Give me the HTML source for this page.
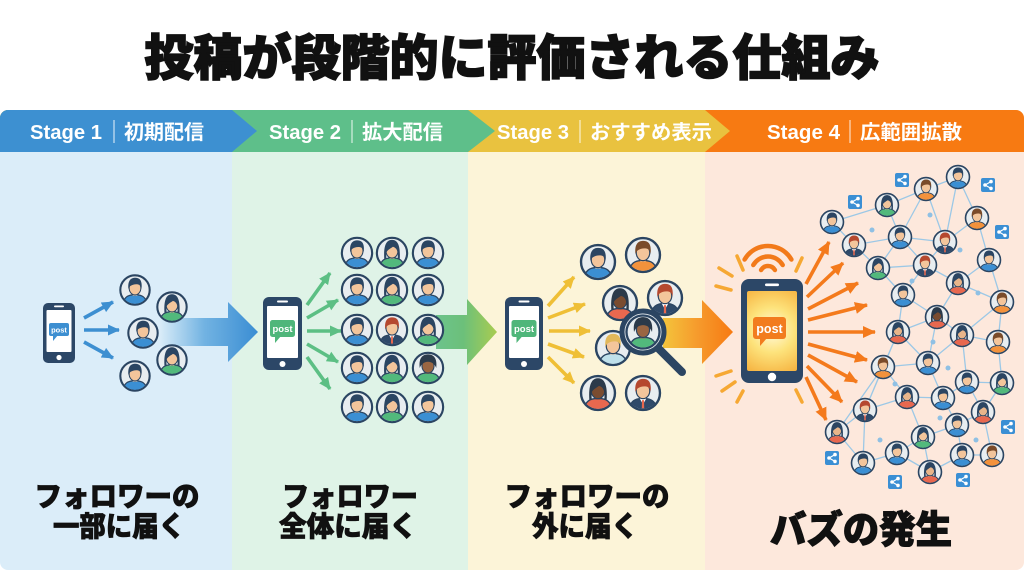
<!DOCTYPE html>
<html><head><meta charset="utf-8"><style>
html,body{margin:0;padding:0;background:#fff;width:1024px;height:572px;overflow:hidden}
svg{display:block}
</style></head><body>
<svg width="1024" height="572" viewBox="0 0 1024 572" xmlns="http://www.w3.org/2000/svg">
<defs>
<clipPath id="avc"><circle r="14.6"/></clipPath>
<clipPath id="frame"><rect x="0" y="110" width="1024" height="460" rx="8"/></clipPath>
<symbol id="avB" viewBox="-17 -17 34 34"><circle r="15.6" fill="#e8edf0" stroke="#2b4562" stroke-width="2.2"/><g clip-path="url(#avc)"><path d="M-12.5,17 C-12.5,7 -7,5 0,5 C7,5 12.5,7 12.5,17Z" fill="#3b8fd3" stroke="#2b4562" stroke-width="1.3"/><rect x="-2.4" y="1" width="4.8" height="5" fill="#f3c59b"/><ellipse cy="-2" rx="6.2" ry="7.2" fill="#f3c59b" stroke="#2b4562" stroke-width="1.1"/><path d="M-7,-1 C-8,-11 -3.5,-13 0,-13 C4.5,-13 8,-11 7,-1 C6.5,-4 5.5,-5.5 3,-6 C0,-6.5 -3,-5.5 -4.5,-4.5 C-5.5,-4 -6.5,-2.5 -7,-1Z" fill="#2b4562"/></g></symbol>
<symbol id="avG" viewBox="-17 -17 34 34"><circle r="15.6" fill="#e8edf0" stroke="#2b4562" stroke-width="2.2"/><g clip-path="url(#avc)"><path d="M-12.5,17 C-12.5,7 -7,5 0,5 C7,5 12.5,7 12.5,17Z" fill="#52b97c" stroke="#2b4562" stroke-width="1.3"/><rect x="-2.4" y="1" width="4.8" height="5" fill="#f3c59b"/><ellipse cy="-2" rx="6.2" ry="7.2" fill="#f3c59b" stroke="#2b4562" stroke-width="1.1"/><path d="M-8,6 C-9,-11 -4,-13.5 0,-13.5 C4,-13.5 9,-11 8,6 L5.8,6 C6.3,0 6,-5 1,-6.5 C-2,-4.5 -5,-3 -6,0 L-5.8,6Z" fill="#2b4562"/></g></symbol>
<symbol id="avO" viewBox="-17 -17 34 34"><circle r="15.6" fill="#e8edf0" stroke="#2b4562" stroke-width="2.2"/><g clip-path="url(#avc)"><path d="M-12.5,17 C-12.5,7 -7,5 0,5 C7,5 12.5,7 12.5,17Z" fill="#f3923c" stroke="#2b4562" stroke-width="1.3"/><rect x="-2.4" y="1" width="4.8" height="5" fill="#f3c59b"/><ellipse cy="-2" rx="6.2" ry="7.2" fill="#f3c59b" stroke="#2b4562" stroke-width="1.1"/><path d="M-7,-1 C-8,-11 -3.5,-13 0,-13 C4.5,-13 8,-11 7,-1 C6.5,-4 5.5,-5.5 3,-6 C0,-6.5 -3,-5.5 -4.5,-4.5 C-5.5,-4 -6.5,-2.5 -7,-1Z" fill="#7a4b2a"/></g></symbol>
<symbol id="avR" viewBox="-17 -17 34 34"><circle r="15.6" fill="#e8edf0" stroke="#2b4562" stroke-width="2.2"/><g clip-path="url(#avc)"><path d="M-12.5,17 C-12.5,7 -7,5 0,5 C7,5 12.5,7 12.5,17Z" fill="#e8684f" stroke="#2b4562" stroke-width="1.3"/><rect x="-2.4" y="1" width="4.8" height="5" fill="#e8b58a"/><ellipse cy="-2" rx="6.2" ry="7.2" fill="#e8b58a" stroke="#2b4562" stroke-width="1.1"/><path d="M-8,6 C-9,-11 -4,-13.5 0,-13.5 C4,-13.5 9,-11 8,6 L5.8,6 C6.3,0 6,-5 1,-6.5 C-2,-4.5 -5,-3 -6,0 L-5.8,6Z" fill="#2b4562"/></g></symbol>
<symbol id="avN" viewBox="-17 -17 34 34"><circle r="15.6" fill="#e8edf0" stroke="#2b4562" stroke-width="2.2"/><g clip-path="url(#avc)"><path d="M-12.5,17 C-12.5,7 -7,5 0,5 C7,5 12.5,7 12.5,17Z" fill="#2f4a6a" stroke="#2b4562" stroke-width="1.3"/><path d="M-3,5 L0,10.5 L3,5Z" fill="#fff"/><path d="M-0.9,6.5 L0.9,6.5 L1.1,14 L-1.1,14Z" fill="#e8684f"/><rect x="-2.4" y="1" width="4.8" height="4.5" fill="#f3c59b"/><ellipse cy="-2" rx="6.2" ry="7.2" fill="#f3c59b" stroke="#2b4562" stroke-width="1.1"/><path d="M-7,-1 C-8,-11 -3.5,-13 0,-13 C4.5,-13 8,-11 7,-1 C6.5,-4 5.5,-5.5 3,-6 C0,-6.5 -3,-5.5 -4.5,-4.5 C-5.5,-4 -6.5,-2.5 -7,-1Z" fill="#b5482f"/></g></symbol>
<symbol id="avD" viewBox="-17 -17 34 34"><circle r="15.6" fill="#e8edf0" stroke="#2b4562" stroke-width="2.2"/><g clip-path="url(#avc)"><path d="M-12.5,17 C-12.5,7 -7,5 0,5 C7,5 12.5,7 12.5,17Z" fill="#52b97c" stroke="#2b4562" stroke-width="1.3"/><rect x="-2.4" y="1" width="4.8" height="5" fill="#9a6642"/><ellipse cy="-2" rx="6.2" ry="7.2" fill="#9a6642" stroke="#2b4562" stroke-width="1.1"/><path d="M-8.5,0 C-10,-12 -4,-14 0,-14 C4,-14 10,-12 8.5,0 C7,-4 4,-6.5 0,-6.5 C-4,-6.5 -7,-4 -8.5,0Z" fill="#2b3a4a"/></g></symbol>
<symbol id="avDR" viewBox="-17 -17 34 34"><circle r="15.6" fill="#e8edf0" stroke="#2b4562" stroke-width="2.2"/><g clip-path="url(#avc)"><path d="M-12.5,17 C-12.5,7 -7,5 0,5 C7,5 12.5,7 12.5,17Z" fill="#e8684f" stroke="#2b4562" stroke-width="1.3"/><rect x="-2.4" y="1" width="4.8" height="5" fill="#7a4c30"/><ellipse cy="-2" rx="6.2" ry="7.2" fill="#7a4c30" stroke="#2b4562" stroke-width="1.1"/><path d="M-8,6 C-9,-11 -4,-13.5 0,-13.5 C4,-13.5 9,-11 8,6 L5.8,6 C6.3,0 6,-5 1,-6.5 C-2,-4.5 -5,-3 -6,0 L-5.8,6Z" fill="#2b3a4a"/></g></symbol>
<symbol id="avL" viewBox="-17 -17 34 34"><circle r="15.6" fill="#e8edf0" stroke="#2b4562" stroke-width="2.2"/><g clip-path="url(#avc)"><path d="M-12.5,17 C-12.5,7 -7,5 0,5 C7,5 12.5,7 12.5,17Z" fill="#bfe0ea" stroke="#2b4562" stroke-width="1.3"/><rect x="-2.4" y="1" width="4.8" height="5" fill="#f3c59b"/><ellipse cy="-2" rx="6.2" ry="7.2" fill="#f3c59b" stroke="#2b4562" stroke-width="1.1"/><path d="M-7,-1 C-8,-11 -3.5,-13 0,-13 C4.5,-13 8,-11 7,-1 C6.5,-4 5.5,-5.5 3,-6 C0,-6.5 -3,-5.5 -4.5,-4.5 C-5.5,-4 -6.5,-2.5 -7,-1Z" fill="#e2b85a"/></g></symbol>
<symbol id="share" viewBox="0 0 14 14"><rect width="14" height="14" rx="2" fill="#3b8fd4"/><path d="M10,3.6 L4,7 L10,10.4" stroke="#fff" stroke-width="1.2" fill="none"/><circle cx="10" cy="3.6" r="1.8" fill="#fff"/><circle cx="4" cy="7" r="1.8" fill="#fff"/><circle cx="10" cy="10.4" r="1.8" fill="#fff"/></symbol>
<marker id="mB" markerUnits="userSpaceOnUse" markerWidth="12" markerHeight="11" refX="11" refY="5.5" orient="auto"><path d="M0,0 L12,5.5 L0,11Z" fill="#3d8fd1"/></marker>
<marker id="mG" markerUnits="userSpaceOnUse" markerWidth="12" markerHeight="11" refX="11" refY="5.5" orient="auto"><path d="M0,0 L12,5.5 L0,11Z" fill="#5cbf84"/></marker>
<marker id="mY" markerUnits="userSpaceOnUse" markerWidth="12" markerHeight="11" refX="11" refY="5.5" orient="auto"><path d="M0,0 L12,5.5 L0,11Z" fill="#efbf36"/></marker>
<marker id="mO" markerUnits="userSpaceOnUse" markerWidth="13" markerHeight="12" refX="12" refY="6" orient="auto"><path d="M0,0 L13,6 L0,12Z" fill="#f47a1c"/></marker>
<linearGradient id="g1" gradientUnits="userSpaceOnUse" x1="160" y1="0" x2="258" y2="0"><stop offset="0" stop-color="#d9ecf8"/><stop offset="0.45" stop-color="#72b3e2"/><stop offset="1" stop-color="#3a8dd3"/></linearGradient>
<linearGradient id="g2" gradientUnits="userSpaceOnUse" x1="436" y1="0" x2="497" y2="0"><stop offset="0" stop-color="#6cc38c"/><stop offset="0.45" stop-color="#6cc07a"/><stop offset="1" stop-color="#a9cc50"/></linearGradient>
<linearGradient id="g3" gradientUnits="userSpaceOnUse" x1="663" y1="0" x2="733" y2="0"><stop offset="0" stop-color="#f4c43c"/><stop offset="0.5" stop-color="#f69a2c"/><stop offset="1" stop-color="#f77a12"/></linearGradient>
<radialGradient id="scr" cx="772" cy="330" r="50" gradientUnits="userSpaceOnUse"><stop offset="0" stop-color="#fffbe2"/><stop offset="0.45" stop-color="#fde37c"/><stop offset="1" stop-color="#f5ae3a"/></radialGradient>
</defs>

<!-- Title -->
<text x="512" y="75" text-anchor="middle" font-family="'Liberation Sans','Noto Sans CJK JP',sans-serif" font-size="49" font-weight="900" fill="#111" stroke="#111" stroke-width="1.6" textLength="735" lengthAdjust="spacingAndGlyphs">投稿が段階的に評価される仕組み</text>

<g clip-path="url(#frame)">
<rect x="0" y="110" width="232" height="460" fill="#dbedf9"/>
<rect x="232" y="110" width="236" height="460" fill="#dff3e7"/>
<rect x="468" y="110" width="237" height="460" fill="#fcf4d8"/>
<rect x="705" y="110" width="319" height="460" fill="#fde8dc"/>
<rect x="0" y="110" width="1024" height="42" fill="#f77a12"/>
<polygon points="0,110 705,110 730,131 705,152 0,152" fill="#e9c23f"/>
<polygon points="0,110 468,110 495,131 468,152 0,152" fill="#5ebf8a"/>
<polygon points="0,110 232,110 257,131 232,152 0,152" fill="#3d90d1"/>
</g>

<g font-family="'Liberation Sans','Noto Sans CJK JP',sans-serif" font-size="20" font-weight="bold" fill="#fff">
<text x="30" y="139" textLength="72" lengthAdjust="spacingAndGlyphs">Stage 1</text>
<text x="124" y="139" textLength="80" lengthAdjust="spacingAndGlyphs">初期配信</text>
<text x="269" y="139" textLength="72" lengthAdjust="spacingAndGlyphs">Stage 2</text>
<text x="362" y="139" textLength="81" lengthAdjust="spacingAndGlyphs">拡大配信</text>
<text x="497" y="139" textLength="72" lengthAdjust="spacingAndGlyphs">Stage 3</text>
<text x="590" y="139" textLength="122" lengthAdjust="spacingAndGlyphs">おすすめ表示</text>
<text x="767" y="139" textLength="73" lengthAdjust="spacingAndGlyphs">Stage 4</text>
<text x="860" y="139" textLength="102" lengthAdjust="spacingAndGlyphs">広範囲拡散</text>
</g>
<g stroke="#fff" stroke-opacity="0.75" stroke-width="1.2">
<line x1="114" y1="120" x2="114" y2="143"/><line x1="352" y1="120" x2="352" y2="143"/><line x1="580" y1="120" x2="580" y2="143"/><line x1="850" y1="120" x2="850" y2="143"/>
</g>

<!-- Big transition arrows -->
<polygon points="160,318 228,318 228,302 258,332 228,362 228,346 160,346" fill="url(#g1)"/>
<polygon points="436,315 467,315 467,299 497,332 467,365 467,349 436,349" fill="url(#g2)"/>
<polygon points="663,318 702,318 702,300 733,332 702,364 702,348 663,348" fill="url(#g3)"/>

<!-- Column 1 -->
<rect x="43" y="303" width="32" height="60" rx="5" fill="#2c4767"/>
<rect x="46.5" y="310" width="25" height="42" rx="1" fill="#fff"/>
<rect x="54" y="305.5" width="10" height="1.8" rx="0.9" fill="#fff"/>
<circle cx="59" cy="357.5" r="2.6" fill="#fff"/>
<rect x="49" y="323" width="20" height="13" rx="2" fill="#3d8fd1"/>
<path d="M53,335 L53,341 L58,335Z" fill="#3d8fd1"/>
<text x="59" y="332.5" text-anchor="middle" font-family="'Liberation Sans',sans-serif" font-size="7.5" font-weight="bold" fill="#fff">post</text>
<g stroke="#3d8fd1" stroke-width="3.6" marker-end="url(#mB)">
<line x1="84" y1="318" x2="113" y2="302"/>
<line x1="84" y1="330" x2="119" y2="330"/>
<line x1="84" y1="342" x2="113" y2="358"/>
</g>
<use href="#avB" x="119" y="274" width="32" height="32"/>
<use href="#avG" x="156" y="291" width="32" height="32"/>
<use href="#avB" x="127" y="317" width="32" height="32"/>
<use href="#avG" x="156" y="344" width="32" height="32"/>
<use href="#avB" x="119" y="360" width="32" height="32"/>

<!-- Column 2 -->
<rect x="263" y="297" width="39" height="73" rx="6" fill="#2c4767"/>
<rect x="267" y="306" width="31" height="52" rx="1" fill="#fff"/>
<rect x="277" y="300.5" width="11" height="2" rx="1" fill="#fff"/>
<circle cx="282.5" cy="364" r="3" fill="#fff"/>
<rect x="270" y="320" width="25" height="17" rx="2.5" fill="#4fb67a"/>
<path d="M275,336 L275,343 L281,336Z" fill="#4fb67a"/>
<text x="282.5" y="332" text-anchor="middle" font-family="'Liberation Sans',sans-serif" font-size="9.5" font-weight="bold" fill="#fff">post</text>
<g stroke="#5cbf84" stroke-width="3.6" marker-end="url(#mG)">
<line x1="307" y1="305" x2="330" y2="273"/>
<line x1="307" y1="318" x2="338" y2="300"/>
<line x1="307" y1="331" x2="341" y2="331"/>
<line x1="307" y1="344" x2="338" y2="362"/>
<line x1="307" y1="357" x2="330" y2="389"/>
</g>
<use href="#avB" x="340.5" y="236.5" width="33" height="33"/>
<use href="#avG" x="375.5" y="236.5" width="33" height="33"/>
<use href="#avB" x="411.5" y="236.5" width="33" height="33"/>
<use href="#avB" x="340.5" y="273.5" width="33" height="33"/>
<use href="#avG" x="375.5" y="273.5" width="33" height="33"/>
<use href="#avB" x="411.5" y="273.5" width="33" height="33"/>
<use href="#avB" x="340.5" y="313.5" width="33" height="33"/>
<use href="#avN" x="375.5" y="313.5" width="33" height="33"/>
<use href="#avG" x="411.5" y="313.5" width="33" height="33"/>
<use href="#avB" x="340.5" y="351.5" width="33" height="33"/>
<use href="#avG" x="375.5" y="351.5" width="33" height="33"/>
<use href="#avD" x="411.5" y="351.5" width="33" height="33"/>
<use href="#avB" x="340.5" y="390.5" width="33" height="33"/>
<use href="#avG" x="375.5" y="390.5" width="33" height="33"/>
<use href="#avB" x="411.5" y="390.5" width="33" height="33"/>

<!-- Column 3 -->
<rect x="505" y="297" width="38" height="73" rx="6" fill="#2c4767"/>
<rect x="509" y="306" width="30" height="52" rx="1" fill="#fff"/>
<rect x="518.5" y="300.5" width="11" height="2" rx="1" fill="#fff"/>
<circle cx="524" cy="364" r="3" fill="#fff"/>
<rect x="511.5" y="320" width="25" height="17" rx="2.5" fill="#4fb67a"/>
<path d="M516.5,336 L516.5,343 L522.5,336Z" fill="#4fb67a"/>
<text x="524" y="332" text-anchor="middle" font-family="'Liberation Sans',sans-serif" font-size="9.5" font-weight="bold" fill="#fff">post</text>
<g stroke="#efbf36" stroke-width="3.6" marker-end="url(#mY)">
<line x1="548" y1="306" x2="574" y2="277"/>
<line x1="548" y1="318" x2="585" y2="304"/>
<line x1="549" y1="331" x2="590" y2="331"/>
<line x1="548" y1="344" x2="584" y2="357"/>
<line x1="548" y1="357" x2="574" y2="383"/>
</g>
<use href="#avB" x="579.5" y="243.5" width="37" height="37"/>
<use href="#avO" x="624.5" y="236.5" width="37" height="37"/>
<use href="#avDR" x="601.5" y="284.5" width="37" height="37"/>
<use href="#avN" x="646.5" y="279.5" width="37" height="37"/>
<use href="#avL" x="594.5" y="329.5" width="37" height="37"/>
<use href="#avDR" x="579.5" y="374.5" width="37" height="37"/>
<use href="#avN" x="624.5" y="374.5" width="37" height="37"/>
<line x1="659" y1="349" x2="682" y2="372" stroke="#2b4562" stroke-width="8" stroke-linecap="round"/>
<circle cx="643" cy="332" r="21" fill="#e8edf0"/>
<use href="#avD" x="625" y="314" width="36" height="36"/>
<circle cx="643" cy="332" r="21" fill="none" stroke="#2b4562" stroke-width="5"/>

<!-- Column 4 -->
<g stroke="#f6a833" stroke-width="3.5" stroke-linecap="round">
<line x1="719" y1="268" x2="732" y2="276"/>
<line x1="716" y1="286" x2="731" y2="290"/>
<line x1="737" y1="256" x2="743" y2="270"/>
<line x1="802" y1="258" x2="796" y2="271"/>
<line x1="716" y1="376" x2="731" y2="371"/>
<line x1="722" y1="391" x2="735" y2="382"/>
<line x1="737" y1="402" x2="743" y2="391"/>
<line x1="796" y1="390" x2="802" y2="402"/>
</g>
<g stroke="#f27a1a" stroke-width="4.5" stroke-linecap="round" fill="none">
<path d="M744.6,259.5 A27,27 0 0 1 791.4,259.5"/>
<path d="M753.3,265 A17,17 0 0 1 782.7,265"/>
<path d="M761.1,270 A8,8 0 0 1 774.9,270"/>
</g>
<rect x="741" y="279" width="62" height="104" rx="8" fill="#2c4767"/>
<rect x="747" y="291" width="50" height="80" rx="2" fill="url(#scr)"/>
<rect x="765" y="283.5" width="14" height="2.6" rx="1.3" fill="#fff"/>
<circle cx="772" cy="377" r="4.2" fill="#fff"/>
<rect x="753" y="317" width="33" height="22" rx="3" fill="#f27c1e"/>
<path d="M760,338 L760,346 L767,338Z" fill="#f27c1e"/>
<text x="769.5" y="333" text-anchor="middle" font-family="'Liberation Sans',sans-serif" font-size="12.5" font-weight="bold" fill="#fff">post</text>
<g stroke="#f47a1c" stroke-width="3.6" marker-end="url(#mO)">
<line x1="806" y1="284" x2="829" y2="242"/>
<line x1="807" y1="297" x2="843" y2="263"/>
<line x1="808" y1="309" x2="858" y2="283"/>
<line x1="808" y1="320" x2="867" y2="305"/>
<line x1="808" y1="332" x2="875" y2="332"/>
<line x1="808" y1="344" x2="867" y2="360"/>
<line x1="808" y1="355" x2="857" y2="382"/>
<line x1="807" y1="366" x2="842" y2="402"/>
<line x1="806" y1="377" x2="826" y2="420"/>
</g>
<path fill="none" stroke="#9cc8e6" stroke-width="1.3" d="M832,222L854,245M832,222L887,205M887,205L926,189M926,189L958,177M887,205L900,237M926,189L900,237M926,189L945,242M958,177L945,242M958,177L977,218M854,245L900,237M900,237L945,242M900,237L878,268M900,237L925,265M945,242L977,218M945,242L925,265M977,218L989,260M854,245L878,268M878,268L925,265M878,268L903,295M925,265L903,295M925,265L958,283M989,260L958,283M989,260L1002,302M903,295L937,317M903,295L898,332M958,283L937,317M958,283L1002,302M1002,302L962,335M1002,302L998,342M937,317L898,332M937,317L962,335M898,332L883,367M898,332L928,363M962,335L998,342M962,335L928,363M962,335L967,382M998,342L1002,383M883,367L928,363M883,367L907,397M883,367L865,410M928,363L943,398M967,382L1002,383M967,382L943,398M967,382L983,412M1002,383L983,412M907,397L943,398M907,397L923,437M865,410L837,432M865,410L907,397M943,398L957,425M983,412L957,425M983,412L992,455M837,432L863,463M923,437L957,425M923,437L897,453M923,437L930,472M957,425L962,455M897,453L863,463M897,453L930,472M962,455L992,455M962,455L930,472M865,410L898,332M837,432L883,367M865,410L863,463M928,363L937,317"/>
<g fill="#8fc0e4">
<circle cx="872" cy="230" r="2.5"/><circle cx="930" cy="215" r="2.5"/><circle cx="960" cy="250" r="2.5"/><circle cx="912" cy="281" r="2.5"/><circle cx="978" cy="293" r="2.5"/><circle cx="933" cy="342" r="2.5"/><circle cx="948" cy="368" r="2.5"/><circle cx="895" cy="384" r="2.5"/><circle cx="940" cy="418" r="2.5"/><circle cx="880" cy="440" r="2.5"/><circle cx="976" cy="440" r="2.5"/>
</g>
<g>
<use href="#avB" x="819.5" y="209.5" width="25" height="25"/>
<use href="#avG" x="874.5" y="192.5" width="25" height="25"/>
<use href="#avO" x="913.5" y="176.5" width="25" height="25"/>
<use href="#avB" x="945.5" y="164.5" width="25" height="25"/>
<use href="#avN" x="841.5" y="232.5" width="25" height="25"/>
<use href="#avB" x="887.5" y="224.5" width="25" height="25"/>
<use href="#avN" x="932.5" y="229.5" width="25" height="25"/>
<use href="#avO" x="964.5" y="205.5" width="25" height="25"/>
<use href="#avG" x="865.5" y="255.5" width="25" height="25"/>
<use href="#avN" x="912.5" y="252.5" width="25" height="25"/>
<use href="#avB" x="976.5" y="247.5" width="25" height="25"/>
<use href="#avB" x="890.5" y="282.5" width="25" height="25"/>
<use href="#avR" x="945.5" y="270.5" width="25" height="25"/>
<use href="#avO" x="989.5" y="289.5" width="25" height="25"/>
<use href="#avDR" x="924.5" y="304.5" width="25" height="25"/>
<use href="#avR" x="885.5" y="319.5" width="25" height="25"/>
<use href="#avR" x="949.5" y="322.5" width="25" height="25"/>
<use href="#avO" x="985.5" y="329.5" width="25" height="25"/>
<use href="#avO" x="870.5" y="354.5" width="25" height="25"/>
<use href="#avB" x="915.5" y="350.5" width="25" height="25"/>
<use href="#avB" x="954.5" y="369.5" width="25" height="25"/>
<use href="#avG" x="989.5" y="370.5" width="25" height="25"/>
<use href="#avR" x="894.5" y="384.5" width="25" height="25"/>
<use href="#avB" x="930.5" y="385.5" width="25" height="25"/>
<use href="#avN" x="852.5" y="397.5" width="25" height="25"/>
<use href="#avR" x="970.5" y="399.5" width="25" height="25"/>
<use href="#avR" x="824.5" y="419.5" width="25" height="25"/>
<use href="#avG" x="910.5" y="424.5" width="25" height="25"/>
<use href="#avB" x="944.5" y="412.5" width="25" height="25"/>
<use href="#avB" x="884.5" y="440.5" width="25" height="25"/>
<use href="#avB" x="949.5" y="442.5" width="25" height="25"/>
<use href="#avO" x="979.5" y="442.5" width="25" height="25"/>
<use href="#avB" x="850.5" y="450.5" width="25" height="25"/>
<use href="#avR" x="917.5" y="459.5" width="25" height="25"/>
</g>
<use href="#share" x="825" y="451" width="14" height="14"/>
<use href="#share" x="888" y="475" width="14" height="14"/>
<use href="#share" x="956" y="473" width="14" height="14"/>
<use href="#share" x="1001" y="420" width="14" height="14"/>
<use href="#share" x="895" y="173" width="14" height="14"/>
<use href="#share" x="848" y="195" width="14" height="14"/>
<use href="#share" x="981" y="178" width="14" height="14"/>
<use href="#share" x="995" y="225" width="14" height="14"/>

<!-- Bottom labels -->
<g font-family="'Liberation Sans','Noto Sans CJK JP',sans-serif" font-weight="900" fill="#111" stroke="#111" stroke-width="0.8" text-anchor="middle">
<text x="117" y="506" font-size="28" textLength="165" lengthAdjust="spacingAndGlyphs">フォロワーの</text>
<text x="119" y="536" font-size="28" textLength="132" lengthAdjust="spacingAndGlyphs">一部に届く</text>
<text x="350" y="506" font-size="28" textLength="136" lengthAdjust="spacingAndGlyphs">フォロワー</text>
<text x="348" y="536" font-size="28" textLength="138" lengthAdjust="spacingAndGlyphs">全体に届く</text>
<text x="587" y="506" font-size="28" textLength="165" lengthAdjust="spacingAndGlyphs">フォロワーの</text>
<text x="585" y="536" font-size="28" textLength="106" lengthAdjust="spacingAndGlyphs">外に届く</text>
<text x="861" y="543" font-size="38" stroke-width="1.1" textLength="182" lengthAdjust="spacingAndGlyphs">バズの発生</text>
</g>
</svg>
</body></html>
